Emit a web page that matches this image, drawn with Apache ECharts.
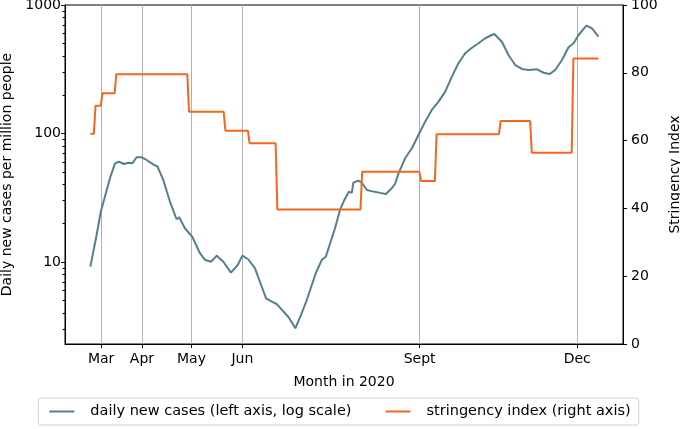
<!DOCTYPE html>
<html><head><meta charset="utf-8">
<script src="https://cdn.jsdelivr.net/npm/echarts@6/dist/echarts.min.js"></script>
<style>html,body{margin:0;padding:0;background:#fff}#c{width:680px;height:429px}</style>
</head><body><div id="c"></div>
<script>
// x = days since first data point
const caseDays = [0, 3.6, 6, 8.4, 11.3, 14.2, 16.5, 19.5, 21.9, 24.2, 26.7, 29.6, 32.5, 36.3, 38.8, 42.1, 46, 49.8, 51.3, 54.6, 58.9, 63.3, 66.2, 69.7, 73, 76.8, 81.2, 85.1, 87.8, 91.2, 95.1, 98.6, 101.5, 104.8, 107.6, 111.1, 114.6, 118.4, 121.7, 125, 127.9, 130.2, 133.7, 136, 138.5, 141.3, 144.2, 146.7, 149.4, 151, 151.9, 154.8, 156.8, 159.7, 163.5, 167.4, 170.7, 173.9, 176, 178, 181.8, 185.7, 189.5, 193.4, 197.2, 201.1, 204.9, 208.8, 212.6, 216.5, 220.4, 224.2, 228.1, 231.9, 233.3, 237.7, 241.5, 245.4, 249.3, 253.1, 258, 261.8, 265.2, 268.5, 272.4, 276.2, 279.1, 282, 286.5, 289.7, 293.5];
const caseValues = [9.2, 16.2, 24.6, 32.2, 44.8, 58.6, 60.3, 57.9, 59.2, 58.6, 65.3, 65.3, 62.2, 57.5, 55.2, 43.5, 29.4, 21.5, 22.3, 18.3, 15.7, 11.7, 10.4, 10.05, 11.2, 10.05, 8.26, 9.48, 11.2, 10.5, 8.93, 6.62, 5.21, 4.91, 4.71, 4.18, 3.7, 3.05, 3.87, 5.06, 6.62, 8.17, 10.4, 11.0, 14.0, 18.3, 25.4, 30.4, 35.3, 34.5, 41.4, 43.0, 41.4, 36.3, 35.3, 34.5, 33.8, 37.3, 40.5, 49.0, 64.1, 76.7, 97.3, 123.6, 152.4, 177, 211, 277, 352, 421, 465, 504, 551, 584, 595, 518, 408, 341, 318, 312, 316, 297, 290, 312, 373, 469, 504, 584, 690, 659, 567];
const stringencyDays = [0, 2, 3, 6, 7, 14, 15, 56, 57, 77, 78, 91, 92, 107, 108, 156, 157, 190, 191, 199, 200, 236, 237, 254, 255, 278, 279, 293.5];
const stringencyValues = [62, 62, 70.3, 70.3, 74, 74, 79.6, 79.6, 68.5, 68.5, 62.9, 62.9, 59.2, 59.2, 39.7, 39.7, 50.8, 50.8, 48.1, 48.1, 61.9, 61.9, 65.8, 65.8, 56.4, 56.4, 84.2, 84.2];
const monthTickDays = [6.2, 29.8, 58.4, 87.8, 190.2, 281.2];
const monthTickLabels = ['Mar', 'Apr', 'May', 'Jun', 'Sept', 'Dec'];
const leftMajorTicks = [10, 100, 1000];
const leftMinorTicks = [3, 4, 5, 6, 7, 8, 9, 20, 30, 40, 50, 60, 70, 80, 90, 200, 300, 400, 500, 600, 700, 800, 900];
const rightTickInterval = 20;

const FONT = 'DejaVu Sans';
const caseColor = '#557f8f';
const strColor = '#f4661e';

const chart = echarts.init(document.getElementById('c'), null, {renderer: 'canvas'});
chart.setOption({
  animation: false,
  textStyle: {fontFamily: FONT, color: '#000'},
  grid: {left: 65, right: 57, top: 5, bottom: 85, outerBoundsMode: 'none', containLabel: false,
    show: true, borderColor: '#000', borderWidth: 1, backgroundColor: 'transparent'},
  xAxis: {
    type: 'value', min: -14.65, max: 307.65,
    name: 'Month in 2020', nameLocation: 'middle', nameGap: 31,
    nameTextStyle: {fontFamily: FONT, fontSize: 14, color: '#000'},
    axisLine: {onZero: false, lineStyle: {color: '#000', width: 1}},
    axisTick: {customValues: monthTickDays, length: 4, lineStyle: {color: '#000'}},
    axisLabel: {customValues: monthTickDays, margin: 8, fontFamily: FONT, fontSize: 14, color: '#000',
      formatter: v => { const i = monthTickDays.indexOf(v); return i >= 0 ? monthTickLabels[i] : ''; }},
    splitLine: {show: false}
  },
  yAxis: [
    {
      type: 'log', logBase: 10, min: 2.3, max: 1000, position: 'left',
      name: 'Daily new cases per million people', nameLocation: 'middle', nameGap: 41.5,
      nameTextStyle: {fontFamily: FONT, fontSize: 14, color: '#000'},
      axisLine: {show: true, onZero: false, lineStyle: {color: '#000', width: 1}},
      axisTick: {show: true, customValues: leftMajorTicks, length: 4, lineStyle: {color: '#000'}},
      axisLabel: {customValues: leftMajorTicks, margin: 4, fontFamily: FONT, fontSize: 14, color: '#000', formatter: v => String(v)},
      splitLine: {show: false}
    },
    {
      type: 'log', logBase: 10, min: 2.3, max: 1000, position: 'left', offset: 0,
      axisLine: {show: false, onZero: false},
      axisTick: {show: true, customValues: leftMinorTicks, length: 2.5, lineStyle: {color: '#000'}},
      axisLabel: {show: false},
      splitLine: {show: false}
    },
    {
      type: 'value', min: 0, max: 100, interval: rightTickInterval, position: 'right',
      name: 'Stringency Index', nameLocation: 'middle', nameGap: 35.5,
      nameTextStyle: {fontFamily: FONT, fontSize: 14, color: '#000'},
      axisLine: {show: true, onZero: false, lineStyle: {color: '#000', width: 1}},
      axisTick: {show: true, length: 4, lineStyle: {color: '#000'}},
      axisLabel: {margin: 8, fontFamily: FONT, fontSize: 14, color: '#000'},
      splitLine: {show: false}
    }
  ],
  legend: {
    top: 398, left: 'center',
    data: ['daily new cases (left axis, log scale)', 'stringency index (right axis)'],
    icon: 'rect',
    itemWidth: 25, itemHeight: 2, itemGap: 34,
    padding: [6, 8, 6, 11],
    borderColor: '#d0d0d0', borderWidth: 1, borderRadius: 3,
    textStyle: {fontFamily: FONT, fontSize: 14.5, color: '#000', padding: [0, 0, 0, 11]}
  },
  series: [
    {
      name: 'daily new cases (left axis, log scale)', type: 'line', yAxisIndex: 0,
      data: caseDays.map((d, i) => [d, caseValues[i]]),
      symbol: 'none', lineStyle: {color: caseColor, width: 2}, itemStyle: {color: caseColor},
      z: 3,
      markLine: {
        silent: true, symbol: 'none', z: 1, animation: false,
        label: {show: false},
        lineStyle: {color: '#b0b0b0', width: 1, type: 'solid'},
        emphasis: {disabled: true},
        data: monthTickDays.map(d => ({xAxis: d}))
      }
    },
    {
      name: 'stringency index (right axis)', type: 'line', yAxisIndex: 2,
      data: stringencyDays.map((d, i) => [d, stringencyValues[i]]),
      symbol: 'none', lineStyle: {color: strColor, width: 2}, itemStyle: {color: strColor},
      z: 4
    }
  ]
});
</script></body></html>
